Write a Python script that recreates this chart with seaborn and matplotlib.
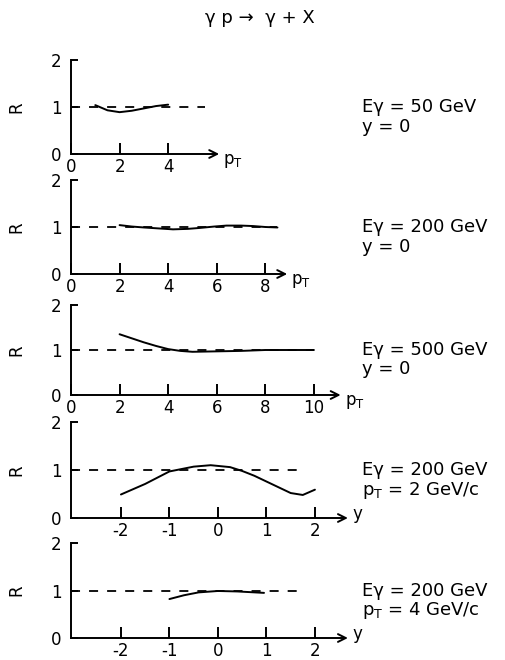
import matplotlib
matplotlib.use('Agg')
import matplotlib.pyplot as plt
import matplotlib.transforms as mtransforms
import pandas as pd
import seaborn as sns

# R: vs pT at y = 0, then vs y at fixed pT
pt_50 = [1.0, 1.5, 2.0, 2.5, 3.0, 3.5, 4.0]
r_50 = [1.04, 0.93, 0.89, 0.92, 0.97, 1.02, 1.05]

pt_200 = [2.0, 2.5, 3.0, 3.6, 4.2, 4.8, 5.3, 5.9, 6.4, 7.0, 7.5, 8.0, 8.5]
r_200 = [1.04, 1.01, 0.99, 0.97, 0.95, 0.96, 0.98, 1.01, 1.03, 1.03, 1.02, 1.0, 0.99]

pt_500 = [2.0, 2.5, 3.0, 3.5, 4.0, 4.5, 5.0, 6.0, 7.0, 8.0, 9.0, 10.0]
r_500 = [1.35, 1.26, 1.17, 1.09, 1.02, 0.98, 0.96, 0.97, 0.98, 1.0, 1.0, 1.0]

y_pt2 = [-2.0, -1.75, -1.5, -1.25, -1.0, -0.5, -0.15, 0.25, 0.5, 0.75, 1.0, 1.25, 1.5, 1.75, 2.0]
r_pt2 = [0.49, 0.6, 0.71, 0.84, 0.97, 1.07, 1.1, 1.06, 0.98, 0.88, 0.76, 0.64, 0.52, 0.48, 0.59]

y_pt4 = [-1.0, -0.7, -0.4, 0.0, 0.4, 0.95]
r_pt4 = [0.82, 0.9, 0.96, 0.99, 0.98, 0.95]

energy_labels = ['Eγ = 50 GeV', 'Eγ = 200 GeV', 'Eγ = 500 GeV', 'Eγ = 200 GeV', 'Eγ = 200 GeV']
cond_labels = ['y = 0', 'y = 0', 'y = 0', r'p$_\mathrm{T}$ = 2 GeV/c', r'p$_\mathrm{T}$ = 4 GeV/c']
axis_names = [r'p$_\mathrm{T}$', r'p$_\mathrm{T}$', r'p$_\mathrm{T}$', 'y', 'y']
x_ticks = [[0, 2, 4], [0, 2, 4, 6, 8], [0, 2, 4, 6, 8, 10], [-2, -1, 0, 1, 2], [-2, -1, 0, 1, 2]]
x_tick_labels = [['0', '2', '4'], ['0', '2', '4', '6', '8'], ['0', '2', '4', '6', '8', '10'],
                 ['-2', '-1', '0', '1', '2'], ['-2', '-1', '0', '1', '2']]
r_ticks = [0, 1, 2]
r_tick_labels = ['0', '1', '2']
title = 'γ p →  γ + X'

curves = [(pt_50, r_50), (pt_200, r_200), (pt_500, r_500), (y_pt2, r_pt2), (y_pt4, r_pt4)]

# layout (pixels of the 506x660 figure)
W, H = 506, 660
x_left_px, x_width_px = 71, 274
y0_px = [154, 274, 395, 518, 638]
y2_px = [60, 180, 305, 422, 543]
x_lims = [(0, 11.28), (0, 11.28), (0, 11.28), (-3.03, 2.62), (-3.03, 2.62)]
arrow_end = [6.1, 8.9, 11.1, 2.68, 2.68]
ref_end = [5.5, 8.5, 10.0, 1.75, 1.75]

sns.set_style('white')
plt.rcParams['font.family'] = ['DejaVu Sans']
plt.rcParams['mathtext.fontset'] = 'dejavusans'
plt.rcParams['text.color'] = 'black'
plt.rcParams['axes.labelcolor'] = 'black'

fig = plt.figure(figsize=(W / 100, H / 100), dpi=100)
lw = 1.4

for i, (xs, rs) in enumerate(curves):
    ax = fig.add_axes([x_left_px / W, 1 - y0_px[i] / H, x_width_px / W, (y0_px[i] - y2_px[i]) / H])
    ax.patch.set_alpha(0)
    df = pd.DataFrame({'x': xs, 'R': rs})
    x0, x1 = x_lims[i]

    ax.hlines(1, x0, ref_end[i], colors='black', linewidth=1.3, linestyles=(0, (5, 5)))
    sns.lineplot(data=df, x='x', y='R', ax=ax, color='black', linewidth=lw, sort=False)

    ax.set_xlim(x0, x1)
    ax.set_ylim(0, 2)
    for s in ['top', 'right', 'bottom']:
        ax.spines[s].set_visible(False)
    ax.spines['left'].set_linewidth(lw)
    ax.spines['left'].set_color('black')
    ax.spines['left'].set_clip_on(False)

    ax.set_xticks(x_ticks[i])
    ax.set_xticklabels(x_tick_labels[i])
    ax.set_yticks(r_ticks)
    ax.set_yticklabels(r_tick_labels)
    ax.tick_params(axis='x', bottom=True, direction='in', length=8, width=lw, pad=3,
                   labelsize=12, colors='black')
    ax.tick_params(axis='y', left=True, direction='in', length=5, width=lw, pad=7,
                   labelsize=12, colors='black')
    ax.set_xlabel('')
    ax.set_ylabel('R', fontsize=12, rotation=90)
    ax.yaxis.set_label_coords(-0.165, 0.5)

    # horizontal axis drawn as an arrow
    ax.annotate('', xy=(arrow_end[i], 0), xytext=(x0, 0),
                arrowprops=dict(arrowstyle='->', lw=lw, color='black', shrinkA=0, shrinkB=0,
                                mutation_scale=14),
                annotation_clip=False)
    off = (3, -5) if i < 3 else (3, 3)
    ax.annotate(axis_names[i], xy=(arrow_end[i], 0), xytext=off, textcoords='offset points',
                ha='left', va='center', fontsize=12, annotation_clip=False)

    trans = mtransforms.blended_transform_factory(ax.transAxes, ax.transData)
    ax.text(1.062, 1.0, energy_labels[i], transform=trans, ha='left', va='center', fontsize=13)
    ax.text(1.062, 0.57, cond_labels[i], transform=trans, ha='left', va='center', fontsize=13)

fig.text(0.514, 1 - 18 / H, title, ha='center', va='center', fontsize=13)

fig.savefig('out.png', dpi=100)
